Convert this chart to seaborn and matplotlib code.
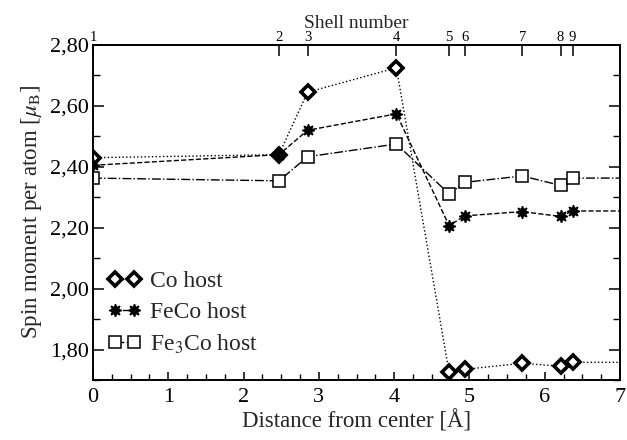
import numpy as np
import pandas as pd
import matplotlib
matplotlib.use("Agg")
import matplotlib.pyplot as plt
import seaborn as sns
from matplotlib.ticker import MultipleLocator, FixedLocator, FuncFormatter

# ---- data ----
distance = [0.0, 2.47, 2.85, 4.03, 4.73, 4.94, 5.70, 6.21, 6.37]
shell_labels = ["1", "2", "3", "4", "5", "6", "7", "8", "9"]
co_host = [2.43, 2.44, 2.645, 2.725, 1.725, 1.735, 1.755, 1.745, 1.758]
feco_host = [2.405, 2.44, 2.52, 2.574, 2.207, 2.239, 2.253, 2.237, 2.255]
fe3co_host = [2.363, 2.354, 2.433, 2.475, 2.311, 2.349, 2.370, 2.339, 2.363]
x_end = 7.0

sns.set_theme(style="ticks")
plt.rcParams["font.family"] = ["Liberation Serif", "DejaVu Serif"]
plt.rcParams["mathtext.fontset"] = "stix"

fig = plt.figure(figsize=(6.27, 4.40), dpi=100)
ax = fig.add_axes([93/627, 1-380/440, (620-93)/627, (380-45)/440])

series = [
    ("Co host", co_host, ":", "D", dict(markerfacecolor="white", markeredgecolor="black", markeredgewidth=2.6, markersize=7.0)),
    ("FeCo host", feco_host, "--", (8, 1, 0), dict(markerfacecolor="black", markeredgecolor="black", markeredgewidth=1.0, markersize=9)),
    ("Fe$_3$Co host", fe3co_host, "-.", "s", dict(markerfacecolor="white", markeredgecolor="black", markeredgewidth=1.1, markersize=8)),
]

for name, vals, ls, mk, mkw in series:
    xs = distance + [x_end]
    ys = vals + [vals[-1]]
    df = pd.DataFrame({"x": xs, "y": ys})
    sns.lineplot(data=df, x="x", y="y", ax=ax, color="black", linestyle=ls,
                 linewidth=1.0, marker=mk, markevery=list(range(len(vals))),
                 label=name, sort=False, **mkw)

ax.set_xlim(0, 7)
ax.set_ylim(1.70, 2.80)
ax.xaxis.set_major_locator(MultipleLocator(1))
ax.xaxis.set_minor_locator(MultipleLocator(0.25))
ax.yaxis.set_major_locator(FixedLocator([1.8, 2.0, 2.2, 2.4, 2.6, 2.8]))
ax.yaxis.set_minor_locator(MultipleLocator(0.1))
ax.yaxis.set_major_formatter(FuncFormatter(lambda v, p: f"{v:.2f}".replace(".", ",")))
ax.tick_params(axis="both", which="both", direction="in", colors="black")
ax.tick_params(axis="x", which="major", length=6, width=1.1, labelsize=16, pad=6, top=False)
ax.tick_params(axis="x", which="minor", length=4, width=1.0, top=False)
ax.tick_params(axis="y", which="major", length=8, width=1.1, labelsize=16, pad=3, right=True)
ax.tick_params(axis="y", which="minor", length=5, width=1.0, right=True)
for s in ax.spines.values():
    s.set_linewidth(1.4)
    s.set_color("black")

ax.set_xlabel("Distance from center [Å]", fontsize=16.5, labelpad=2)
ax.set_ylabel(r"Spin moment per atom [$\mu_\mathrm{B}$]", fontsize=16.5, labelpad=4)

top = ax.secondary_xaxis("top")
top.set_xticks(distance)
top.set_xticklabels(shell_labels)
top.tick_params(direction="in", length=8, width=1.1, labelsize=10.5, pad=1, colors="black")
top.set_xlabel("Shell number", fontsize=14, labelpad=2)

leg = ax.legend(loc="upper left", bbox_to_anchor=(0.01, 0.355), frameon=False,
                fontsize=17, numpoints=2, handlelength=1.4, handletextpad=0.4,
                labelspacing=0.4, borderaxespad=0)

fig.savefig("out.png", dpi=100)
